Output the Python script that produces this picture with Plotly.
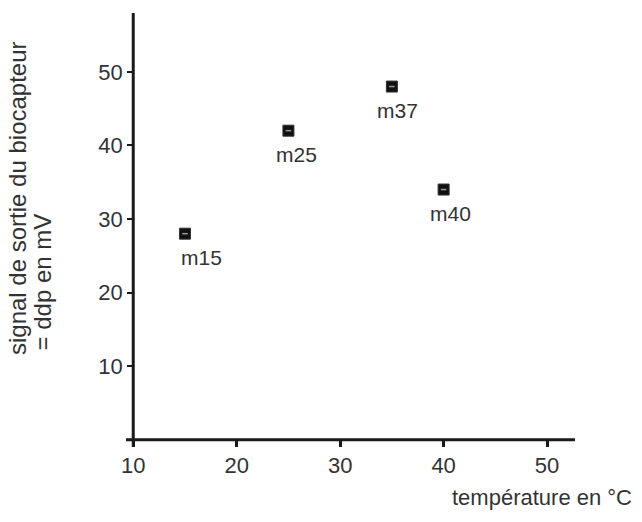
import plotly.graph_objects as go

# Biosensor output vs temperature
temperature = [15, 25, 35, 40]
signal_mv = [28, 42, 48, 34]
labels = ["m15", "m25", "m37", "m40"]
label_dx = [17, 8, 6, 7]

x_ticks = [10, 20, 30, 40, 50]
y_ticks = [10, 20, 30, 40, 50]

FONT = "Liberation Sans, Arial, sans-serif"
INK = "#1a1a1a"
TXT = "#333333"

XMIN, XMAX = 9.3, 52.7
YMIN, YMAX = -1, 58

fig = go.Figure()
fig.add_trace(go.Scatter(
    x=temperature, y=signal_mv, mode="markers",
    marker=dict(symbol="square", size=11, color="#111111",
                line=dict(color="#333333", width=1)),
    showlegend=False, hoverinfo="skip",
))
# small light dash inside each square
fig.add_trace(go.Scatter(
    x=temperature, y=signal_mv, mode="markers",
    marker=dict(symbol="line-ew", size=4, color="#111111",
                line=dict(color="#9a9a9a", width=1.5)),
    showlegend=False, hoverinfo="skip",
))

for xv, yv, lab, dx in zip(temperature, signal_mv, labels, label_dx):
    fig.add_annotation(x=xv, y=yv, text=lab, showarrow=False,
                       xshift=dx, yshift=-24, xanchor="center", yanchor="middle",
                       font=dict(family=FONT, size=21, color=TXT))

x_axis_pos = (0 - YMIN) / (YMAX - YMIN)
y_axis_pos = (10 - XMIN) / (XMAX - XMIN)

fig.update_layout(
    width=642, height=522,
    margin=dict(l=126, r=67, t=13, b=75),
    paper_bgcolor="white", plot_bgcolor="white",
    font=dict(family=FONT, size=21, color=TXT),
    xaxis=dict(range=[XMIN, XMAX], tickvals=x_ticks, showgrid=False, zeroline=False,
               showline=False,
               ticks="outside", ticklen=6, tickwidth=3, tickcolor=INK,
               anchor="free", position=x_axis_pos,
               tickfont=dict(family=FONT, size=22, color=TXT)),
    yaxis=dict(range=[YMIN, YMAX], tickvals=y_ticks, showgrid=False, zeroline=False,
               showline=False,
               ticks="outside", ticklen=6, tickwidth=2, tickcolor=INK,
               anchor="free", position=y_axis_pos,
               tickfont=dict(family=FONT, size=22, color=TXT)),
)

# axis lines crossing at (10, 0), each running slightly past the other
fig.add_shape(type="line", xref="x", yref="paper", x0=10, x1=10, y0=0, y1=1,
              line=dict(color=INK, width=3))
fig.add_shape(type="line", xref="paper", yref="y", x0=0, x1=1, y0=0, y1=0,
              line=dict(color=INK, width=3))

fig.add_annotation(text="température en °C", xref="paper", yref="paper",
                   x=(634 - 126) / (575 - 126), y=-(497 - 447) / (447 - 13),
                   xanchor="right", yanchor="middle", showarrow=False,
                   font=dict(family=FONT, size=22, color=TXT))
fig.add_annotation(text="signal de sortie du biocapteur", xref="paper", yref="paper",
                   x=-(126 - 17) / (575 - 126), y=(447 - 357) / (447 - 13),
                   xanchor="center", yanchor="bottom", textangle=-90, showarrow=False,
                   font=dict(family=FONT, size=24, color=TXT))
fig.add_annotation(text="= ddp en mV", xref="paper", yref="paper",
                   x=-(126 - 42) / (575 - 126), y=(447 - 353) / (447 - 13),
                   xanchor="center", yanchor="bottom", textangle=-90, showarrow=False,
                   font=dict(family=FONT, size=24, color=TXT))

fig.write_html("out.html")
